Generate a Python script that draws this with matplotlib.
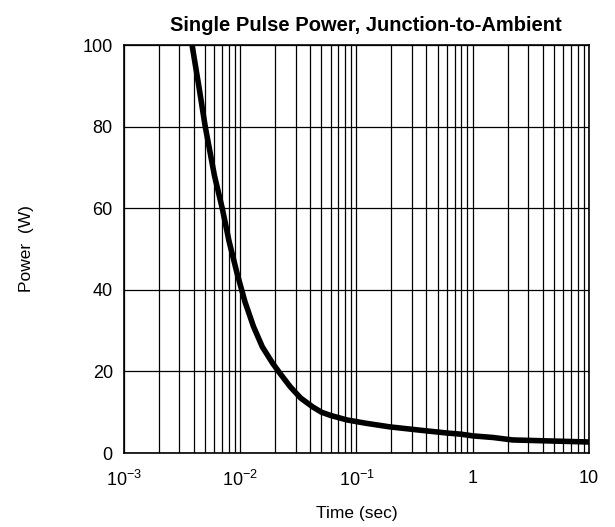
import matplotlib
matplotlib.use("Agg")
import matplotlib.pyplot as plt
from matplotlib.ticker import LogLocator, FixedLocator, FuncFormatter

plt.rcParams['font.family'] = ['Liberation Sans', 'DejaVu Sans']
plt.rcParams['mathtext.fontset'] = 'custom'
plt.rcParams['mathtext.rm'] = 'Liberation Sans'
plt.rcParams['mathtext.it'] = 'Liberation Sans:italic'
plt.rcParams['mathtext.bf'] = 'Liberation Sans:bold'

time_s = [0.00385, 0.0044, 0.005, 0.006, 0.007, 0.008, 0.0094, 0.011, 0.013,
          0.0155, 0.019, 0.022, 0.027, 0.033, 0.042, 0.05, 0.06, 0.083, 0.12,
          0.194, 0.35, 0.6, 0.8, 1.0, 1.5, 2.2, 4.0, 10.0]
power_w = [100, 90, 80, 68, 60, 52, 44, 37, 31, 26, 22, 19.5, 16.2, 13.5, 11.3,
           10.0, 9.2, 8.1, 7.3, 6.4, 5.6, 4.9, 4.6, 4.2, 3.8, 3.2, 3.0, 2.7]

y_ticks = [0, 20, 40, 60, 80, 100]
x_tick_labels = {1e-3: r'$10^{-3}$', 1e-2: r'$10^{-2}$', 1e-1: r'$10^{-1}$', 1.0: '1', 10.0: '10'}

fig = plt.figure(figsize=(6.15, 5.27), dpi=100)
ax = fig.add_axes([0.2016, 0.1404, 0.7561, 0.7742])

ax.plot(time_s, power_w, color='black', lw=4.0, solid_capstyle='butt',
        solid_joinstyle='round', zorder=3, clip_on=True)

ax.set_xscale('log')
ax.set_xlim(1e-3, 10)
ax.set_ylim(0, 100)
ax.xaxis.set_major_locator(LogLocator(base=10, numticks=10))
ax.xaxis.set_minor_locator(LogLocator(base=10, subs=range(2, 10), numticks=20))
ax.xaxis.set_major_formatter(FuncFormatter(lambda v, p: x_tick_labels.get(round(v, 6), '')))
ax.xaxis.set_minor_formatter(FuncFormatter(lambda v, p: ''))
ax.yaxis.set_major_locator(FixedLocator(y_ticks))

ax.grid(True, which='both', axis='x', color='black', lw=0.9)
ax.grid(True, which='major', axis='y', color='black', lw=0.9)
ax.tick_params(axis='both', which='both', length=0, labelsize=13, colors='black')
ax.tick_params(axis='x', pad=12)
ax.tick_params(axis='y', pad=8)
for s in ax.spines.values():
    s.set_linewidth(1.2)
    s.set_color('black')

ax.set_xlabel('Time (sec)', fontsize=12.5, labelpad=12)
ax.set_ylabel('Power  (W)', fontsize=12.5, labelpad=35)
ax.set_title('Single Pulse Power, Junction-to-Ambient', fontsize=14.5, fontweight='bold',
             x=0.52, pad=10)

fig.savefig('out.png', dpi=100)
